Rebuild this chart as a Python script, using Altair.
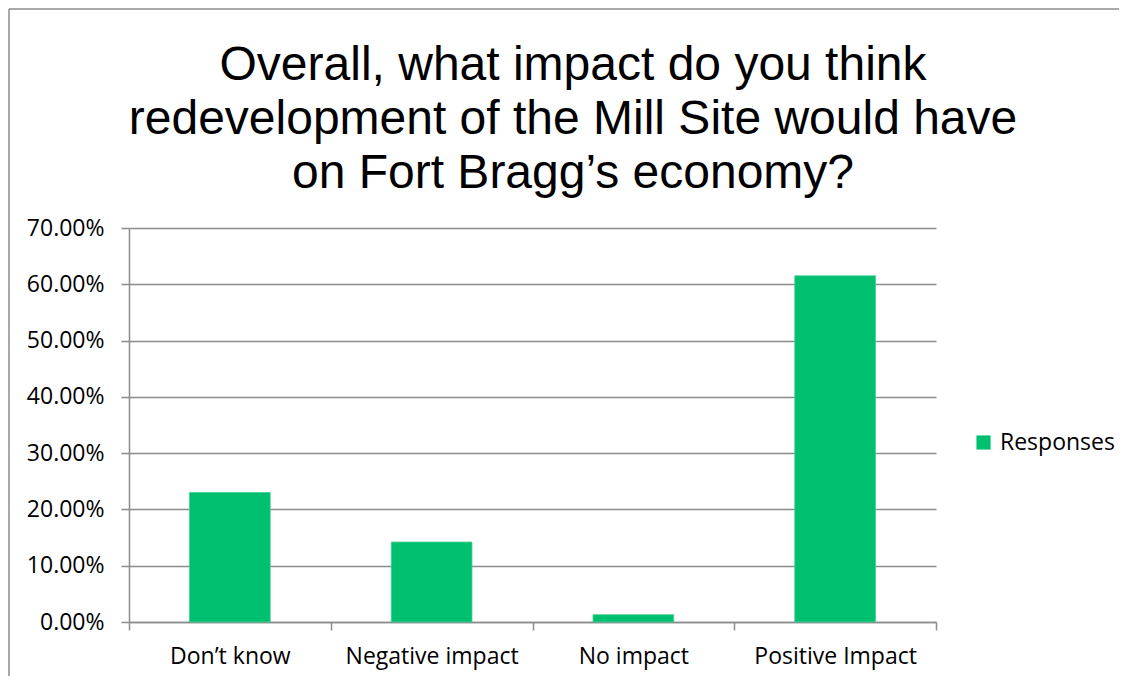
import altair as alt
import pandas as pd

categories = ["Don’t know", "Negative impact", "No impact", "Positive Impact"]
values = [0.230, 0.142, 0.013, 0.615]
series = "Responses"
y_ticks = [0.0, 0.1, 0.2, 0.3, 0.4, 0.5, 0.6, 0.7]
title_lines = [
    "Overall, what impact do you think",
    "redevelopment of the Mill Site would have",
    "on Fort Bragg’s economy?",
]

df = pd.DataFrame({"category": categories, "value": values, "series": [series] * len(categories)})
one = pd.DataFrame({"k": [0]})

GREEN = "#00BF6F"
GRID = "#8c8c8c"
FONT = "Open Sans"

bars = alt.Chart(df).mark_bar(
    width=alt.RelativeBandSize(0.4), color=GREEN, stroke="#3fd193", strokeWidth=0.8
).encode(
    x=alt.X(
        "category:N",
        sort=categories,
        scale=alt.Scale(paddingInner=0, paddingOuter=0),
        axis=alt.Axis(
            title=None,
            labelAngle=0,
            tickBand="extent",
            tickSize=8,
            tickColor=GRID,
            tickWidth=1.5,
            domainColor=GRID,
            domainWidth=1.5,
            labelFont=FONT,
            labelFontSize=23,
            labelColor="#000",
            labelPadding=15,
            grid=False,
        ),
    ),
    y=alt.Y(
        "value:Q",
        scale=alt.Scale(domain=[0, 0.7], nice=False),
        axis=alt.Axis(
            title=None,
            values=y_ticks,
            format=".2%",
            tickSize=8,
            tickColor=GRID,
            tickWidth=1.5,
            domainColor=GRID,
            domainWidth=1.5,
            gridColor=GRID,
            gridWidth=1.5,
            labelFont=FONT,
            labelFontSize=23,
            labelColor="#000",
            labelPadding=17,
        ),
    ),
    color=alt.Color(
        "series:N",
        scale=alt.Scale(range=[GREEN]),
        legend=alt.Legend(
            title=None,
            orient="none",
            legendX=843,
            legendY=203,
            symbolType="square",
            symbolSize=200,
            symbolStrokeWidth=0,
            labelFont=FONT,
            labelFontSize=23,
            labelColor="#000",
            labelOffset=5,
            padding=0,
        ),
    ),
)

title = alt.Chart(one).mark_text(
    text=title_lines,
    font="Liberation Sans",
    fontSize=48,
    color="#000",
    lineHeight=54,
    align="center",
    baseline="alphabetic",
).encode(x=alt.value(444), y=alt.value(-148))

frame_top = alt.Chart(one).mark_rule(color=GRID, strokeWidth=1.5).encode(
    x=alt.value(-120), x2=alt.value(990), y=alt.value(-219)
)
frame_left = alt.Chart(one).mark_rule(color=GRID, strokeWidth=1.5).encode(
    x=alt.value(-120), y=alt.value(-219), y2=alt.value(448)
)

chart = alt.layer(bars, title, frame_top, frame_left).properties(
    width=807,
    height=394,
    padding={"left": 0, "top": 0, "right": 0, "bottom": 0},
).configure_view(stroke=None)

chart.save("out.html", embed_options={"renderer": "svg", "actions": False})
